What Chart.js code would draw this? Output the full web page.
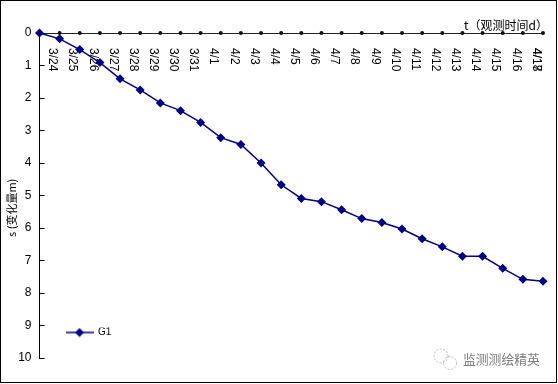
<!DOCTYPE html>
<html><head><meta charset="utf-8">
<script src="https://cdn.jsdelivr.net/npm/chart.js@4"></script>
<style>
html,body{margin:0;padding:0;background:#fff}
#frame{position:absolute;left:0;top:0;width:555px;height:381px;border:1px solid #000;pointer-events:none}
canvas{position:absolute;left:0;top:0}
</style></head><body>
<canvas id="c" width="558" height="384"></canvas><div id="frame"></div>
<script>
const categories=["","3/24","3/25","3/26","3/27","3/28","3/29","3/30","3/31","4/1","4/2","4/3","4/4","4/5","4/6","4/7","4/8","4/9","4/10","4/11","4/12","4/13","4/14","4/15","4/16","4/17"];
const extraLabels=["","","","","","","","","","","","","","","","","","","","","","","","","","4/18"];
const g1=[0,0.18,0.51,0.91,1.41,1.75,2.15,2.39,2.75,3.22,3.43,4.0,4.67,5.09,5.19,5.44,5.71,5.83,6.03,6.33,6.58,6.87,6.87,7.24,7.58,7.64];
const axisDots=[0,0,0,0,0,0,0,0,0,0,0,0,0,0,0,0,0,0,0,0,0,0,0,0,0,0];
const navy="#000080";
const sans="'Liberation Sans'";
const cjk="'Noto Sans CJK SC'";

const legendMark=document.createElement("canvas");
legendMark.width=28;legendMark.height=10;
(function(){const m=legendMark.getContext("2d");
 m.strokeStyle=navy;m.lineWidth=1.5;m.beginPath();m.moveTo(0,5);m.lineTo(28,5);m.stroke();
 m.fillStyle=navy;m.beginPath();m.moveTo(14,0.5);m.lineTo(18.5,5);m.lineTo(14,9.5);m.lineTo(9.5,5);m.closePath();m.fill();})();

const placeLegend={id:"placeLegend",afterLayout(chart){
  const l=chart.legend;const w=l.width,h=l.height;
  l.left=66;l.right=66+w;l.top=327.5;l.bottom=327.5+h;
  chart.scales.x.right+=5;
}};
const watermark={id:"watermark",afterDraw(chart){
  const x=chart.ctx;x.save();
  x.fillStyle="#7c7c7c";x.font="12.8px "+cjk;x.textBaseline="middle";x.textAlign="left";
  x.fillText("监测测绘精英",463,359.5);
  x.strokeStyle="#bdbdbd";x.lineWidth=1;x.setLineDash([2,1.5]);
  x.beginPath();x.arc(441,356,7,0,Math.PI*2);x.stroke();
  x.beginPath();x.arc(450,363,6.5,0,Math.PI*2);x.stroke();
  x.restore();
}};
const topAxisBase={type:"category",position:"top",offset:false,
  grid:{display:false,drawOnChartArea:false,drawTicks:false},
  ticks:{autoSkip:false,mirror:true,minRotation:-90,maxRotation:-90,padding:15,labelOffset:-7,color:"#000",font:{family:sans,size:12}}};

new Chart(document.getElementById("c"),{
  type:"line",
  data:{labels:categories,datasets:[
    {label:"axis",data:axisDots,borderColor:"rgba(0,0,0,0)",backgroundColor:"#111",pointRadius:2,pointBorderWidth:0,showLine:false,clip:false,order:2},
    {label:"G1",data:g1,borderColor:navy,backgroundColor:navy,borderWidth:1.5,tension:0,pointStyle:"rectRot",pointRadius:4.5,pointBorderWidth:0,clip:false,order:1}
  ]},
  plugins:[placeLegend,watermark],
  options:{
    responsive:false,animation:false,devicePixelRatio:1,
    layout:{padding:{left:0,top:0,right:14.4,bottom:6}},
    plugins:{
      tooltip:{enabled:false},title:{display:false},
      legend:{display:true,position:"bottom",align:"start",
        labels:{padding:0,usePointStyle:true,pointStyleWidth:27,boxHeight:10,color:"#000",font:{family:sans,size:10},
          filter:i=>i.text==="G1",
          generateLabels:c=>c.data.datasets.map(d=>({text:d.label,pointStyle:legendMark,fillStyle:navy,strokeStyle:navy,lineWidth:0,hidden:false,datasetIndex:c.data.datasets.indexOf(d)}))}}
    },
    scales:{
      x:Object.assign({},topAxisBase,{weight:1,
        border:{display:false},
        title:{display:true,text:"t（观测时间d）",align:"end",color:"#000",padding:{top:18,bottom:0},font:{family:cjk,size:12}},
        afterFit(s){s.height=33;}}),
      x2:Object.assign({},topAxisBase,{weight:0,labels:extraLabels,
        border:{display:true,color:"#222",width:1},
        afterFit(s){s.height=0;}}),
      y:{reverse:true,min:0,max:10,position:"left",
        border:{display:true,color:"#000",width:1},
        grid:{display:true,drawOnChartArea:false,drawTicks:true,tickLength:-5,color:"#000"},
        ticks:{stepSize:1,autoSkip:false,padding:13,color:"#000",font:{family:sans,size:12}},
        title:{display:true,text:"s (变化量m)          ",color:"#000",padding:{top:5,bottom:0},font:{family:cjk,size:11}},
        afterFit(s){s.width=39.5;}}
    }
  }
});
</script></body></html>
